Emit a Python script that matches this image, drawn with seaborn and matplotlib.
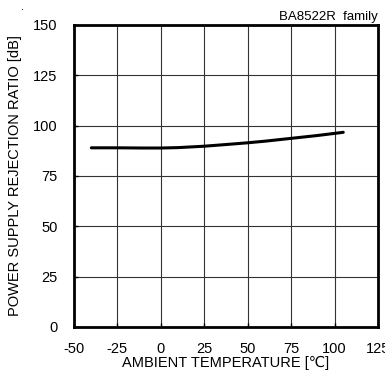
import numpy as np
import pandas as pd
import seaborn as sns
import matplotlib.pyplot as plt

# curve
temp = [-40, -25, -10, 0, 10, 25, 40, 50, 60, 75, 90, 105]
psrr = [89.0, 89.0, 88.9, 88.9, 89.1, 89.8, 90.8, 91.5, 92.3, 93.7, 95.1, 96.7]
x_ticks = [-50, -25, 0, 25, 50, 75, 100, 125]
y_ticks = [0, 25, 50, 75, 100, 125, 150]

df = pd.DataFrame({'temp': temp, 'psrr': psrr})

sns.set_theme(style="white")
plt.rcParams['font.family'] = ['Liberation Sans', 'DejaVu Sans']
plt.rcParams['text.color'] = 'black'
plt.rcParams['axes.labelcolor'] = 'black'
plt.rcParams['xtick.color'] = 'black'
plt.rcParams['ytick.color'] = 'black'

fig = plt.figure(figsize=(3.85, 3.76), dpi=100)
ax = fig.add_axes([74 / 385, 1 - 327 / 376, 304 / 385, 302 / 376])

sns.lineplot(data=df, x='temp', y='psrr', ax=ax, color='black', linewidth=2.2)

ax.set_xlim(-50, 125)
ax.set_ylim(0, 150)
ax.set_xticks(x_ticks)
ax.set_yticks(y_ticks)
ax.set_xticklabels([str(v) for v in x_ticks], fontsize=10.5)
ax.set_yticklabels([str(v) for v in y_ticks], fontsize=10.5)
ax.grid(True, color='#333333', linewidth=0.8)
ax.tick_params(direction='in', length=3, width=1, color='black', pad=12,
               bottom=True, left=True)
ax.tick_params(axis='x', pad=11)
for s in ax.spines.values():
    s.set_color('black')
    s.set_linewidth(2)

ax.set_xlabel('AMBIENT TEMPERATURE [\u2103]', fontsize=10.5, labelpad=0)
ax.set_ylabel('POWER SUPPLY REJECTION RATIO [dB]', fontsize=10.5, labelpad=8)
ax.text(1.0, 1.008, 'BA8522R  family', transform=ax.transAxes,
        ha='right', va='bottom', fontsize=9.5)
fig.text(22 / 385, 1 - 7 / 376, '.', fontsize=8, ha='center', va='center')

fig.savefig('out.png', dpi=100)
